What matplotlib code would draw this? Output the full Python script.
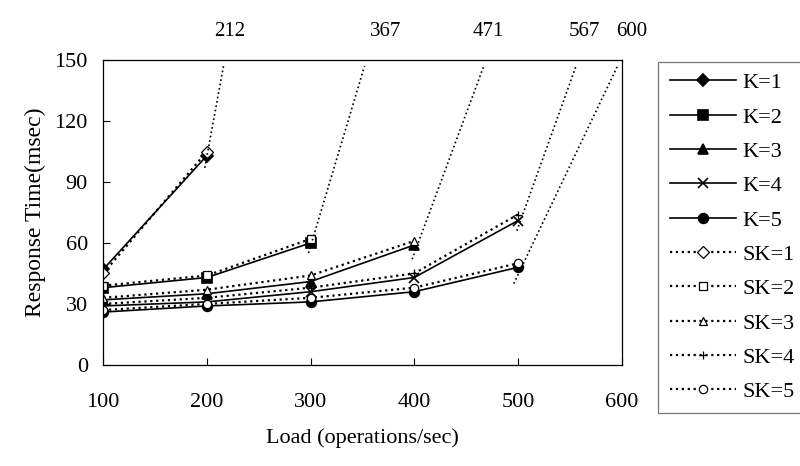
import matplotlib.pyplot as plt
from matplotlib import transforms

plt.rcParams['font.family'] = ['Liberation Serif', 'DejaVu Serif']

loads = [100, 200, 300, 400, 500]

# measured response times (msec); each K stops at its saturation point
k_vals = {
    1: [47, 103],
    2: [38, 43, 60],
    3: [32, 35, 41, 59],
    4: [29, 31, 36, 43, 71],
    5: [26, 29, 31, 36, 48],
}
sk_vals = {
    1: [45, 105],
    2: [39, 44, 62],
    3: [33, 37, 44, 61],
    4: [30, 33, 38, 45, 74],
    5: [27, 30, 33, 38, 50],
}

# asymptote (simulated) tails: start and end points
tail_x = [(198, 216), (298, 352), (398, 467), (499, 556), (496, 596)]
tail_y = [(97, 147), (55, 147), (52, 147), (66, 147), (40, 147)]

cap_labels = ['212', '367', '471', '567', '600']
cap_pos = [222, 372, 471, 564, 610]

k_markers = ['D', 's', '^', 'x', 'o']
sk_markers = ['D', 's', '^', '+', 'o']

fig = plt.figure(figsize=(8, 4.66), dpi=100)
ax = fig.add_axes([0.129, 0.217, 0.648, 0.654])

handles = []
for i in range(5):
    k = i + 1
    y = k_vals[k]
    h, = ax.plot(loads[:len(y)], y, '-', color='black', lw=1.2,
                 marker=k_markers[i], ms=7 if k_markers[i] != 'D' else 6,
                 mfc='black', mec='black', mew=1.2, label='K=%d' % k)
    handles.append(h)
for i in range(5):
    k = i + 1
    y = sk_vals[k]
    h, = ax.plot(loads[:len(y)], y, ':', color='black', lw=1.6,
                 marker=sk_markers[i], ms=6, mfc='white', mec='black',
                 mew=0.9, label='SK=%d' % k)
    handles.append(h)

for tx, ty in zip(tail_x, tail_y):
    ax.plot(tx, ty, ':', color='black', lw=1.2)

ax.set_xlim(100, 600)
ax.set_ylim(0, 150)
ax.set_xticks([100, 200, 300, 400, 500, 600])
ax.set_yticks([0, 30, 60, 90, 120, 150])
ax.tick_params(axis='x', direction='in', length=5, pad=20, labelsize=16)
ax.tick_params(axis='y', direction='in', length=5, pad=11, labelsize=16)
for s in ax.spines.values():
    s.set_linewidth(0.9)

ax.set_xlabel('Load (operations/sec)', fontsize=16, labelpad=12)
ax.set_ylabel('Response Time(msec)', fontsize=17, labelpad=6)

trans = transforms.blended_transform_factory(ax.transData, ax.transAxes)
for lab, xp in zip(cap_labels, cap_pos):
    ax.text(xp, 1.095, lab, transform=trans, ha='center', va='center',
            fontsize=15)

leg = fig.legend(handles=handles, loc='upper left',
                 bbox_to_anchor=(0.823, 0.868), frameon=True,
                 fontsize=16, handlelength=3.0, labelspacing=0.62,
                 borderpad=0.5, handletextpad=0.3, fancybox=False,
                 edgecolor='#555555', borderaxespad=0)
leg.get_frame().set_linewidth(0.9)

fig.savefig('out.png', dpi=100)
